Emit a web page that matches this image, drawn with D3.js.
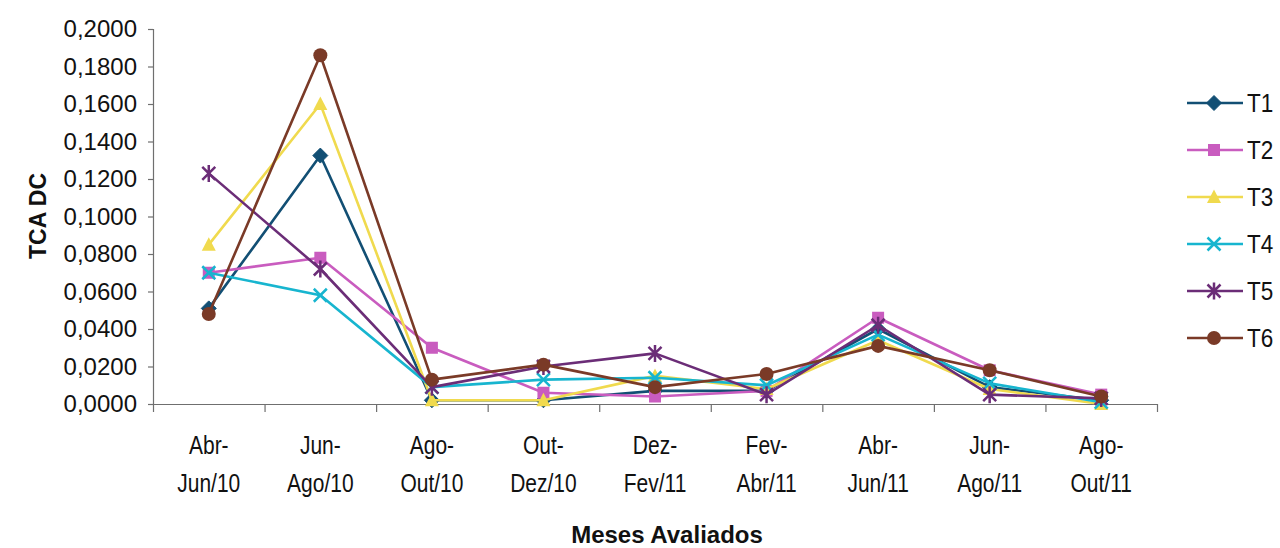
<!DOCTYPE html>
<html>
<head>
<meta charset="utf-8">
<script src="https://cdn.jsdelivr.net/npm/d3@7"></script>
<style>
  html, body { margin: 0; padding: 0; background: #fff; }
  svg { display: block; }
  text { font-family: "Liberation Sans", Arial, sans-serif; fill: #111; }
</style>
</head>
<body>
<svg id="chart" width="1280" height="548"></svg>
<script>
// Two-month evaluation periods (upper / lower label line)
const periodTop = ["Abr-", "Jun-", "Ago-", "Out-", "Dez-", "Fev-", "Abr-", "Jun-", "Ago-"];
const periodBottom = ["Jun/10", "Ago/10", "Out/10", "Dez/10", "Fev/11", "Abr/11", "Jun/11", "Ago/11", "Out/11"];

// TCA DC per treatment
const t1 = [0.051, 0.1325, 0.002, 0.002, 0.007, 0.007, 0.040, 0.009, 0.002];
const t2 = [0.070, 0.078, 0.030, 0.006, 0.004, 0.007, 0.046, 0.018, 0.005];
const t3 = [0.085, 0.160, 0.002, 0.002, 0.015, 0.008, 0.034, 0.008, 0.000];
const t4 = [0.070, 0.058, 0.009, 0.013, 0.014, 0.010, 0.037, 0.011, 0.001];
const t5 = [0.123, 0.072, 0.009, 0.020, 0.027, 0.005, 0.042, 0.005, 0.003];
const t6 = [0.048, 0.186, 0.013, 0.021, 0.009, 0.016, 0.031, 0.018, 0.004];

const seriesNames = ["T1", "T2", "T3", "T4", "T5", "T6"];
const yTicks = [0, 0.02, 0.04, 0.06, 0.08, 0.10, 0.12, 0.14, 0.16, 0.18, 0.20];

const seriesList = [
  { name: "T1", values: t1, color: "#124f74", marker: "diamond" },
  { name: "T2", values: t2, color: "#c95cbf", marker: "square" },
  { name: "T3", values: t3, color: "#f0da4e", marker: "triangle" },
  { name: "T4", values: t4, color: "#17b5cf", marker: "cross" },
  { name: "T5", values: t5, color: "#6b2d77", marker: "star" },
  { name: "T6", values: t6, color: "#7a3a27", marker: "circle" }
];

const svg = d3.select("#chart");
const plot = { left: 153, right: 1157, top: 29, bottom: 404 };

const x = d3.scaleBand().domain(d3.range(periodTop.length)).range([plot.left, plot.right]).padding(0);
const xEdges = d3.scaleLinear().domain([0, periodTop.length]).range([plot.left, plot.right]);
const y = d3.scaleLinear().domain([0, 0.2]).range([plot.bottom, plot.top]);
const cx = i => x(i) + x.bandwidth() / 2;

const ptBR = d3.formatLocale({ decimal: ",", thousands: ".", grouping: [3], currency: ["R$", ""] });
const fmt = ptBR.format(".4f");

const axisColor = "#6f6f6f";

// Y axis
const yAxis = svg.append("g")
  .attr("transform", `translate(${plot.left},0)`)
  .call(d3.axisLeft(y).tickValues(yTicks).tickFormat(fmt).tickSize(5).tickPadding(11));
yAxis.select(".domain").attr("stroke", axisColor).attr("stroke-width", 1.2);
yAxis.selectAll(".tick line").attr("stroke", axisColor).attr("stroke-width", 1.2);
yAxis.selectAll(".tick text")
  .attr("font-size", 24)
  .attr("font-family", "Liberation Sans, Arial, sans-serif")
  .attr("fill", "#111");

// X axis: tick marks between periods
const xAxis = svg.append("g")
  .attr("transform", `translate(0,${plot.bottom})`)
  .call(d3.axisBottom(xEdges).tickValues(d3.range(periodTop.length + 1)).tickFormat("").tickSize(8).tickSizeOuter(0));
xAxis.select(".domain").attr("stroke", axisColor).attr("stroke-width", 1.2);
xAxis.selectAll(".tick line").attr("stroke", axisColor).attr("stroke-width", 1.2);

// Period labels (two lines, slightly condensed)
const labels = svg.append("g").attr("font-size", 25).attr("text-anchor", "middle");
periodTop.forEach((d, i) => {
  labels.append("text")
    .attr("transform", `translate(${cx(i)},454) scale(0.84,1)`)
    .text(d);
  labels.append("text")
    .attr("transform", `translate(${cx(i)},492) scale(0.84,1)`)
    .text(periodBottom[i]);
});

// Axis titles
svg.append("text")
  .attr("x", 667).attr("y", 543)
  .attr("text-anchor", "middle")
  .attr("font-size", 24).attr("font-weight", "bold")
  .text("Meses Avaliados");
svg.append("text")
  .attr("transform", "translate(46,216) rotate(-90)")
  .attr("text-anchor", "middle")
  .attr("font-size", 23).attr("font-weight", "bold")
  .text("TCA DC");

// Marker drawing
function drawMarker(g, type, color) {
  switch (type) {
    case "diamond":
      g.append("path").attr("d", "M0,-7.5L7.5,0L0,7.5L-7.5,0Z").attr("fill", color).attr("stroke", color);
      break;
    case "square":
      g.append("rect").attr("x", -6).attr("y", -6).attr("width", 12).attr("height", 12).attr("fill", color);
      break;
    case "triangle":
      g.append("path").attr("d", "M0,-7.5L7,6L-7,6Z").attr("fill", color);
      break;
    case "cross":
      g.append("path").attr("d", "M-6.5,-6.5L6.5,6.5M6.5,-6.5L-6.5,6.5").attr("stroke", color).attr("stroke-width", 2.5).attr("fill", "none");
      break;
    case "star":
      g.append("path").attr("d", "M-6.5,-6.5L6.5,6.5M6.5,-6.5L-6.5,6.5M0,-8.5L0,8.5").attr("stroke", color).attr("stroke-width", 2.5).attr("fill", "none");
      break;
    case "circle":
      g.append("circle").attr("r", 7).attr("fill", color);
      break;
  }
}

const line = d3.line().x((d, i) => cx(i)).y(d => y(d));

const seriesG = svg.append("g");
seriesList.forEach(s => {
  const g = seriesG.append("g");
  g.append("path")
    .datum(s.values)
    .attr("d", line)
    .attr("fill", "none")
    .attr("stroke", s.color)
    .attr("stroke-width", 2.6)
    .attr("stroke-linejoin", "round");
  s.values.forEach((v, i) => {
    const m = g.append("g").attr("transform", `translate(${cx(i)},${y(v)})`);
    drawMarker(m, s.marker, s.color);
  });
});

// Legend
const legend = svg.append("g");
seriesList.forEach((s, k) => {
  const ly = 103 + k * 47;
  const row = legend.append("g").attr("transform", `translate(0,${ly})`);
  row.append("line").attr("x1", 1187).attr("x2", 1243).attr("y1", 0).attr("y2", 0)
    .attr("stroke", s.color).attr("stroke-width", 2.6);
  const m = row.append("g").attr("transform", "translate(1214,0)");
  drawMarker(m, s.marker, s.color);
  row.append("text")
    .attr("transform", "translate(1247,9) scale(0.9,1)")
    .attr("font-size", 25)
    .text(seriesNames[k]);
});
</script>
</body>
</html>
